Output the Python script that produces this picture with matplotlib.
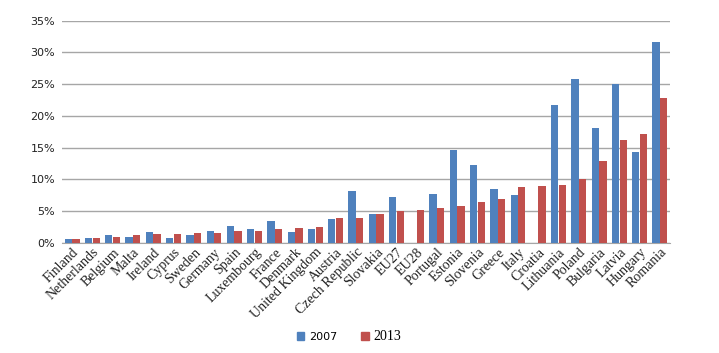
import matplotlib
matplotlib.use("Agg")
import matplotlib.pyplot as plt
import numpy as np
from matplotlib.patches import Patch

categories = ["Finland", "Netherlands", "Belgium", "Malta", "Ireland", "Cyprus", "Sweden",
              "Germany", "Spain", "Luxembourg", "France", "Denmark", "United Kingdom",
              "Austria", "Czech Republic", "Slovakia", "EU27", "EU28", "Portugal", "Estonia",
              "Slovenia", "Greece", "Italy", "Croatia", "Lithuania", "Poland", "Bulgaria",
              "Latvia", "Hungary", "Romania"]
v2007 = [0.68, 0.83, 1.2, 0.94, 1.72, 0.83, 1.2, 1.82, 2.6, 2.13, 3.4, 1.72, 2.24, 3.8,
         8.18, 4.53, 7.24, np.nan, 7.66, 14.58, 12.3, 8.54, 7.5, np.nan, 21.77, 25.83,
         18.07, 25.05, 14.32, 31.6]
v2013 = [0.68, 0.83, 0.94, 1.2, 1.46, 1.46, 1.6, 1.6, 1.82, 1.82, 2.13, 2.34, 2.5, 3.9,
         4.0, 4.53, 5.05, 5.2, 5.52, 5.83, 6.5, 6.98, 8.75, 8.9, 9.06, 10.05, 12.9,
         16.25, 17.19, 22.8]
yticks = [0, 5, 10, 15, 20, 25, 30, 35]
series_labels = ["2007", "2013"]

fig = plt.figure(figsize=(7.19, 3.53), dpi=100)
ax = fig.add_axes([62/719, 1-243/353, (670-62)/719, (243-20.7)/353])

n = len(categories)
x = np.arange(n)
w = 0.36
ax.bar(x - 0.19, v2007, w, color="#4F81BD", zorder=3)
ax.bar(x + 0.19, v2013, w, color="#C0504D", zorder=3)

ax.set_xlim(-0.5, n - 0.5)
ax.set_ylim(0, 35)
ax.set_yticks(yticks)
ax.set_yticklabels([f"{t}%" for t in yticks], fontsize=8, family="DejaVu Sans", color="#222222")
ax.yaxis.grid(True, color="#A6A6A6", linewidth=1, zorder=0)
ax.tick_params(axis="y", length=0, pad=5)
ax.tick_params(axis="x", length=0, pad=2)
ax.set_xticks(x)
ax.set_xticklabels(categories, rotation=45, ha="right", va="top", rotation_mode="anchor",
                   family="Liberation Serif", fontsize=10, color="#222222")
for s in ["top", "right", "left"]:
    ax.spines[s].set_visible(False)
ax.spines["bottom"].set_color("#A6A6A6")

handles = [Patch(color="#4F81BD"), Patch(color="#C0504D")]
leg = fig.legend(handles, series_labels, loc="center", bbox_to_anchor=(349/719, 1-336/353),
                 ncol=2, frameon=False, handlelength=0.7, handleheight=0.7,
                 handletextpad=0.4, columnspacing=2.2, fontsize=8)
texts = leg.get_texts()
texts[0].set_family("DejaVu Sans")
texts[1].set_family("Liberation Serif")
texts[1].set_fontsize(10)

fig.savefig("out.png", dpi=100)
